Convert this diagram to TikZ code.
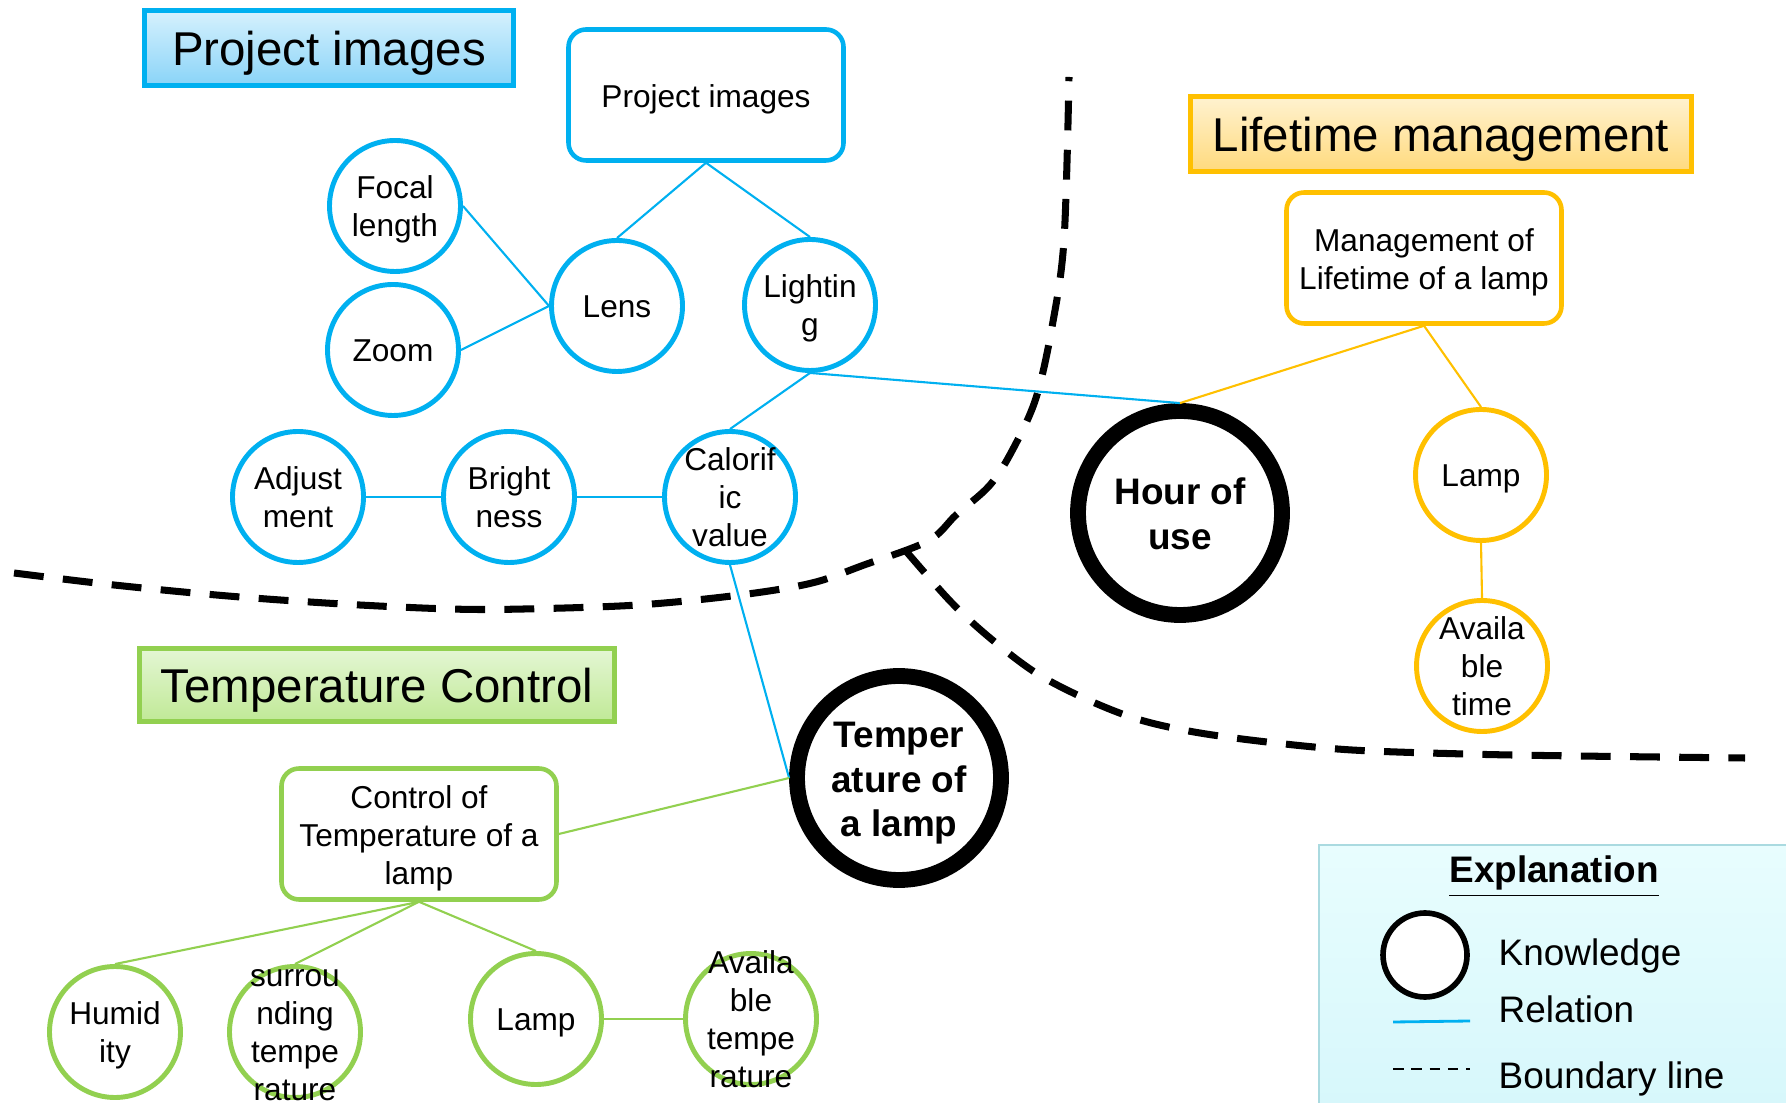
\documentclass[tikz,border=0pt]{standalone}
\usepackage{fontspec}
\setmainfont{Liberation Sans}
\usetikzlibrary{positioning}
\definecolor{pjcolor}{RGB}{0,176,240}
\definecolor{ltcolor}{RGB}{255,192,0}
\definecolor{tccolor}{RGB}{146,208,80}
\definecolor{pjtop}{RGB}{214,241,253}
\definecolor{pjbot}{RGB}{138,212,248}
\definecolor{lttop}{RGB}{255,242,208}
\definecolor{ltbot}{RGB}{255,218,125}
\definecolor{tctop}{RGB}{228,246,212}
\definecolor{tcbot}{RGB}{192,233,150}
\definecolor{keytop}{RGB}{232,253,254}
\definecolor{keybot}{RGB}{214,247,251}
\definecolor{keyedge}{RGB}{170,218,224}
% even line boxes, as the slide tool sets them
\newcommand{\ctext}[1]{\rule{0pt}{8.6pt}#1\rule[-1.9pt]{0pt}{1.9pt}}
\newcommand{\btext}[1]{\rule{0pt}{9.2pt}#1\rule[-1.9pt]{0pt}{1.9pt}}
\newcommand{\ktext}[1]{\rule{0pt}{10.2pt}#1\rule[-2.2pt]{0pt}{2.2pt}}
\tikzset{
  titlebox/.style={draw=#1, line width=1.3pt, inner sep=0pt, font=\fontsize{13.5}{16}\selectfont,
    execute at begin node={\rule{0pt}{13pt}}},
  knowbox/.style={draw=#1, line width=1.3pt, rounded corners=5pt, fill=white, align=center,
    minimum width=27.5mm, minimum height=13.1mm, inner sep=0pt, font=\fontsize{9}{10.8}\selectfont},
  subnode/.style={circle, draw=#1, line width=1.4pt, fill=white, align=center,
    minimum size=13.1mm, inner sep=-6pt, font=\fontsize{9}{10.8}\selectfont},
  keynode/.style={circle, draw=black, line width=4.5pt, fill=white, align=center,
    minimum size=20.4mm, inner sep=0pt, font=\fontsize{10.5}{12.7}\selectfont\bfseries},
  relln/.style={line width=0.6pt},
  boundln/.style={line width=2pt, dash pattern=on 8.5pt off 5.5pt},
  legtext/.style={inner sep=0pt, font=\fontsize{10.5}{12.6}\selectfont},
}

\begin{document}
\begin{tikzpicture}[x=0.1mm, y=-0.1mm]
    \useasboundingbox (0,0) rectangle (1786,1103);
    % boundary lines
    \draw[boundln] plot[smooth, tension=0.55] coordinates {(14,573) (114,585) (228,596) (342,604)
      (450,609) (524,609) (638,605) (740,595) (812,583) (864,565) (928,541) (956,515) (990,485)
      (1013,449) (1036,398) (1052,327) (1064,240) (1069,77)};
    \draw[boundln] plot[smooth, tension=0.55] coordinates {(905,550) (951,602) (990,638) (1036,673)
      (1086,699) (1137,719) (1194,732) (1267,742) (1352,750) (1465,754) (1578,756) (1745,758)};

    % explanation
    \draw[keyedge, line width=0.8pt, top color=keytop, bottom color=keybot] (1319,845) rectangle (1800,1115);
    \node[legtext, font=\fontsize{10.5}{12.6}\selectfont\bfseries, anchor=base] (expl) at (1554,883) {\underline{Explanation}};
    \node[circle, draw=black, line width=1.6pt, fill=white, minimum size=8.4mm, inner sep=0pt] (legknow) at (1425,955) {};
    \coordinate (relA) at (1393,1022);
    \coordinate (relB) at (1470,1021);
    \draw[pjcolor, line width=0.8pt] (relA) -- (relB);
    \coordinate (bndA) at (1393,1069);
    \coordinate (bndB) at (1470,1069);
    \draw[line width=0.7pt, dash pattern=on 3pt off 2.2pt] (bndA) -- (bndB);
    \node[legtext, anchor=base west] (knowtxt) at (1498,965) {Knowledge};
    \node[legtext, anchor=base west] (reltxt) at (1498,1022) {Relation};
    \node[legtext, anchor=base west] (bndtxt) at (1498,1088) {Boundary line};

    % project images
    \node[titlebox=pjcolor, top color=pjtop, bottom color=pjbot, minimum width=36.9mm, minimum height=7.45mm] (pjtitle) at (329,48) {Project images};
    \node[knowbox=pjcolor] (pjbox) at (706,95) {\btext{Project images}};
    \node[subnode=pjcolor] (focal) at (395,206) {\ctext{Focal\\length}};
    \node[subnode=pjcolor] (zoom) at (393,350) {\ctext{Zoom}};
    \node[subnode=pjcolor] (lens) at (617,306) {\ctext{Lens}};
    \node[subnode=pjcolor] (light) at (810,305) {\ctext{Lightin\\g}};
    \node[subnode=pjcolor] (adjust) at (298,497) {\ctext{Adjust\\ment}};
    \node[subnode=pjcolor] (bright) at (509,497) {\ctext{Bright\\ness}};
    \node[subnode=pjcolor] (calor) at (730,497) {\ctext{Calorif\\ic\\value}};

    % lifetime management
    \node[titlebox=ltcolor, top color=lttop, bottom color=ltbot, minimum width=50.1mm, minimum height=7.45mm] (lttitle) at (1441,134) {Lifetime management};
    \node[knowbox=ltcolor] (mgmt) at (1424,258) {\btext{Management of\\Lifetime of a lamp}};
    \node[subnode=ltcolor] (lampo) at (1481,475) {\ctext{Lamp}};
    \node[subnode=ltcolor] (avtime) at (1482,666) {\ctext{Availa\\ble\\time}};

    % temperature control
    \node[titlebox=tccolor, top color=tctop, bottom color=tcbot, minimum width=47.5mm, minimum height=7.35mm] (tctitle) at (377,685) {Temperature Control};
    \node[knowbox=tccolor] (ctrl) at (419,834) {\btext{Control of\\Temperature of a\\lamp}};
    \node[subnode=tccolor] (humid) at (115,1032) {\ctext{Humid\\ity}};
    \node[subnode=tccolor] (surr) at (295,1032) {\ctext{surrou\\nding\\tempe\\rature}};
    \node[subnode=tccolor] (lampg) at (536,1019) {\ctext{Lamp}};
    \node[subnode=tccolor] (avtemp) at (751,1019) {\ctext{Availa\\ble\\tempe\\rature}};

    % knowledge
    \node[keynode] (hour) at (1180,513) {\ktext{Hour of\\use}};
    \node[keynode] (templ) at (899,778) {\ktext{Temper\\ature of\\a lamp}};

    \foreach \a/\b in {pjbox.south/lens.north, pjbox.south/light.north, focal.east/lens.west,
      zoom.east/lens.west, light.south/calor.north, light.south/hour.north, adjust/bright,
      bright/calor, calor.south/templ.west}
      \draw[relln, pjcolor] (\a) -- (\b);
    \foreach \a/\b in {mgmt.south/hour.north, mgmt.south/lampo.north, lampo.south/avtime.north}
      \draw[relln, ltcolor] (\a) -- (\b);
    \foreach \a/\b in {ctrl.east/templ.west, ctrl.south/humid.north, ctrl.south/surr.north,
      ctrl.south/lampg.north, lampg.east/avtemp.west}
      \draw[relln, tccolor] (\a) -- (\b);
\end{tikzpicture}
\end{document}
